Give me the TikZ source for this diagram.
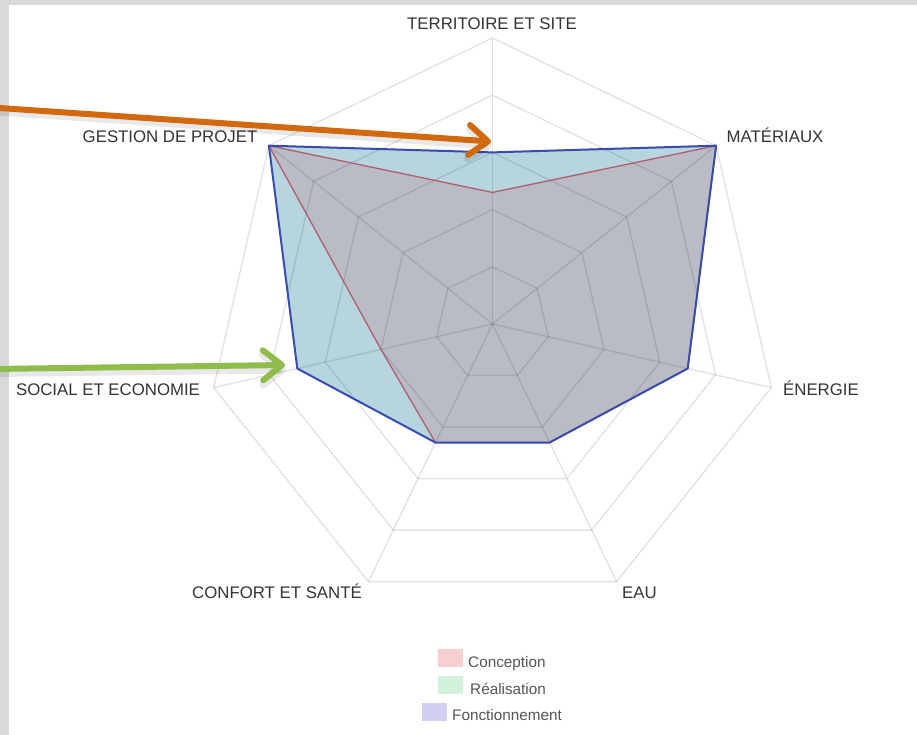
\documentclass[tikz,border=0pt]{standalone}
\usepackage{fontspec}
\setmainfont{Liberation Sans}
\usetikzlibrary{arrows.meta}
\definecolor{framegray}{HTML}{D9D9D9}
\definecolor{labelcol}{HTML}{333333}
\definecolor{legendcol}{HTML}{555555}
\definecolor{tealfill}{HTML}{B7D5DF}
\definecolor{grayfill}{HTML}{B9BCC5}
\definecolor{blueline}{HTML}{3A4BB0}
\definecolor{redline}{HTML}{B25D6C}
\definecolor{orangearrow}{HTML}{D2690F}
\definecolor{greenarrow}{HTML}{8FBC4B}
\definecolor{swred}{HTML}{F6CFD0}
\definecolor{swgreen}{HTML}{D2F2DC}
\definecolor{swblue}{HTML}{D0D0F2}
\tikzset{
  axislabel/.style={anchor=base, inner sep=0pt, text=labelcol, font=\fontsize{16.8}{20}\selectfont},
  legendtext/.style={anchor=base west, inner sep=0pt, text=legendcol, font=\fontsize{15.3}{18}\selectfont},
  gridline/.style={draw=black, draw opacity=0.11, line width=1.4pt},
  pointer/.style={line width=6pt, line cap=round, -{Straight Barb[length=19pt, width=30pt, round]}},
  pshadow/.style={line width=8pt, draw=black, draw opacity=0.09, line cap=round, -{Straight Barb[length=19pt, width=30pt, round]}},
}
\begin{document}
\begin{tikzpicture}[x=1pt,y=-1pt]
\useasboundingbox (0,0) rectangle (917,735);
\fill[white] (0,0) rectangle (917,735);
\fill[framegray] (0,0) rectangle (917,5);
\fill[framegray] (0,0) rectangle (9,735);

\begin{scope}[shift={(492.5,324)}]
  \coordinate (ctr) at (0,0);
  % Fonctionnement (blue) values
  \foreach \k/\v in {0/3.0,1/5,2/3.5,3/2.3,4/2.3,5/3.5,6/5}
    \coordinate (b\k) at ({\k*360/7-90}:{\v*57.2});
  % Conception (red) values
  \foreach \k/\v in {0/2.3,1/5,2/3.5,3/2.3,4/2.3,5/2.0,6/5}
    \coordinate (r\k) at ({\k*360/7-90}:{\v*57.2});
  % outer vertices
  \foreach \k in {0,...,6}
    \coordinate (o\k) at ({\k*360/7-90}:{5*57.2});

  \fill[tealfill] (b0) -- (b1) -- (b2) -- (b3) -- (b4) -- (b5) -- (b6) -- cycle;
  \fill[grayfill] (r0) -- (r1) -- (r2) -- (r3) -- (r4) -- (r5) -- (r6) -- cycle;

  \foreach \l in {1,...,5}
    \draw[gridline, line join=round] (-90:{\l*57.2}) \foreach \k in {1,...,6} { -- ({\k*360/7-90}:{\l*57.2}) } -- cycle;
  \foreach \k in {0,...,6}
    \draw[gridline] (ctr) -- (o\k);

  \draw[redline, line width=1.3pt, line join=round] (r0) -- (r1) -- (r2) -- (r3) -- (r4) -- (r5) -- (r6) -- cycle;
  \draw[blueline, line width=2pt, line join=round] (b0) -- (b1) -- (b2) -- (b3) -- (b4) -- (b5) -- (b6) -- cycle;
\end{scope}

% axis labels
\node[axislabel] (lT) at (492,30) {TERRITOIRE ET SITE};
\node[axislabel] (lM) at (775,143) {MATÉRIAUX};
\node[axislabel] (lE) at (821,395) {ÉNERGIE};
\node[axislabel] (lW) at (639.5,598) {EAU};
\node[axislabel] (lC) at (277,598) {CONFORT ET SANTÉ};
\node[axislabel] (lS) at (108,395) {SOCIAL ET ECONOMIE};
\node[axislabel] (lG) at (170,143) {GESTION DE PROJET};

% legend
\fill[swred] (438,649) rectangle (463,667);
\node[legendtext] (leg1) at (468,667) {Conception};
\fill[swgreen] (438,676) rectangle (463,694);
\node[legendtext] (leg2) at (470,694) {Réalisation};
\fill[swblue] (422,703) rectangle (447,721);
\node[legendtext] (leg3) at (452,720.5) {Fonctionnement};

% pointer arrows
\coordinate (oS) at (-8,107.5);
\coordinate (oE) at (491,141.5);
\coordinate (oSs) at (-8,111);
\coordinate (oEs) at (492,145.5);
\coordinate (gS) at (-8,369);
\coordinate (gE) at (285,365);
\coordinate (gSs) at (-8,373);
\coordinate (gEs) at (286,369.5);
\draw[pshadow] (oSs) -- (oEs);
\draw[pshadow] (gSs) -- (gEs);
\draw[pointer, orangearrow] (oS) -- (oE);
\draw[pointer, greenarrow] (gS) -- (gE);
\end{tikzpicture}
\end{document}
